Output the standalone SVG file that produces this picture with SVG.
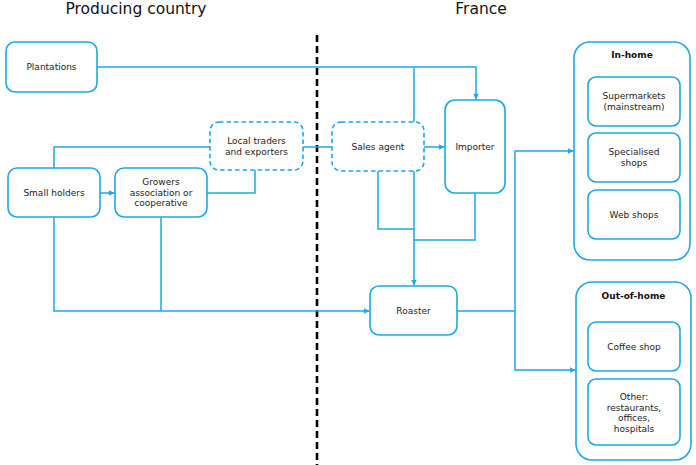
<svg xmlns="http://www.w3.org/2000/svg" width="696" height="465" viewBox="0 0 696 465">
<defs>
<style>
.box{fill:#fff;stroke:#1aa9e4;stroke-width:1.6}
.dash{stroke-dasharray:4.5 3}
.ln{fill:none;stroke:#1aa9e4;stroke-width:1.5}
text{font-family:"DejaVu Sans","Verdana",sans-serif;font-size:9px;fill:#222;text-anchor:middle}
.ttl{font-size:15.5px;fill:#111}
.b{font-weight:bold;fill:#111}
</style>
<marker id="ah" markerUnits="userSpaceOnUse" markerWidth="7" markerHeight="7" refX="6" refY="3" orient="auto">
<path d="M0,0 L6,3 L0,6 z" fill="#1aa9e4"/>
</marker>
</defs>
<rect width="696" height="465" fill="#fff"/>
<text class="ttl" x="136" y="14">Producing country</text>
<text class="ttl" x="481" y="14">France</text>
<line x1="317" y1="35" x2="317" y2="465" stroke="#000" stroke-width="2.6" stroke-dasharray="7 4"/>
<g id="connectors">
<path class="ln" d="M97 67 H476 V99.5" marker-end="url(#ah)"/>
<path class="ln" d="M414 67 V122"/>
<path class="ln" d="M424 147 H444.5" marker-end="url(#ah)"/>
<path class="ln" d="M303 147 H332"/>
<path class="ln" d="M210 147 H54 V168"/>
<path class="ln" d="M100 193 H114.5" marker-end="url(#ah)"/>
<path class="ln" d="M207 193 H255 V170"/>
<path class="ln" d="M54 217 V311 H369.5" marker-end="url(#ah)"/>
<path class="ln" d="M161 217 V311"/>
<path class="ln" d="M378 171 V229 H414"/>
<path class="ln" d="M414 171 V285.5" marker-end="url(#ah)"/>
<path class="ln" d="M475 193 V240 H414"/>
<path class="ln" d="M457 311 H515"/>
<path class="ln" d="M515 311 V151 H573.5" marker-end="url(#ah)"/>
<path class="ln" d="M515 311 V370 H575.5" marker-end="url(#ah)"/>
</g>
<g id="plantations"><rect class="box" x="6" y="42" width="91" height="50" rx="9"/><text x="51.5" y="70">Plantations</text></g>
<g id="local-traders"><rect class="box dash" x="210" y="122" width="93" height="48" rx="9"/><text x="256.5" y="144">Local traders</text><text x="256.5" y="154.5">and exporters</text></g>
<g id="small-holders"><rect class="box" x="8" y="168" width="92" height="49" rx="9"/><text x="54" y="196">Small holders</text></g>
<g id="growers"><rect class="box" x="115" y="168" width="92" height="49" rx="9"/><text x="161" y="185">Growers</text><text x="161" y="195.5">association or</text><text x="161" y="206">cooperative</text></g>
<g id="sales-agent"><rect class="box dash" x="332" y="122" width="92" height="49" rx="9"/><text x="378" y="150">Sales agent</text></g>
<g id="importer"><rect class="box" x="445" y="100" width="60" height="93" rx="10"/><text x="475" y="150">Importer</text></g>
<g id="roaster"><rect class="box" x="370" y="286" width="87" height="49" rx="9"/><text x="413.5" y="314">Roaster</text></g>
<g id="in-home"><rect class="box" x="574" y="42" width="116" height="218" rx="16"/><text class="b" x="632" y="58">In-home</text>
<rect class="box" x="588" y="77" width="92" height="49" rx="8"/><text x="634" y="99">Supermarkets</text><text x="634" y="110">(mainstream)</text>
<rect class="box" x="588" y="133" width="92" height="49" rx="8"/><text x="634" y="155">Specialised</text><text x="634" y="166">shops</text>
<rect class="box" x="588" y="190" width="92" height="49" rx="8"/><text x="634" y="218">Web shops</text></g>
<g id="out-of-home"><rect class="box" x="576" y="282" width="115" height="178" rx="16"/><text class="b" x="633.5" y="299">Out-of-home</text>
<rect class="box" x="588" y="322" width="92" height="49" rx="8"/><text x="634" y="350">Coffee shop</text>
<rect class="box" x="588" y="379" width="92" height="66" rx="8"/><text x="634" y="400">Other:</text><text x="634" y="410.5">restaurants,</text><text x="634" y="421">offices,</text><text x="634" y="431.5">hospitals</text></g>
</svg>
